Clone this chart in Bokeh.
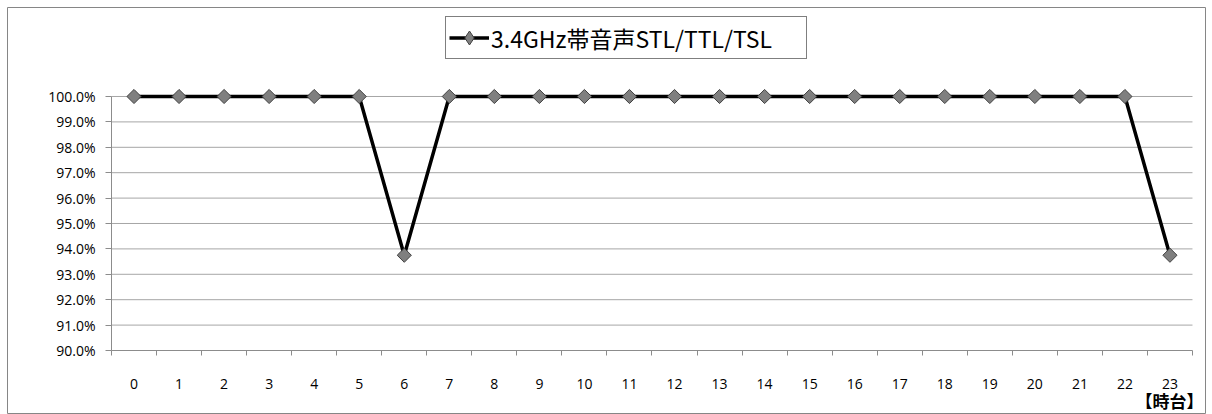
import numpy as np
from bokeh.plotting import figure
from bokeh.models import (FixedTicker, NumeralTickFormatter, Legend, LegendItem,
                          Label, ColumnDataSource, LinearAxis)
from bokeh.embed import file_html
from bokeh.resources import INLINE

hours = list(range(24))
hour_labels = [str(h) for h in hours]
series_name = "3.4GHz帯音声STL/TTL/TSL"
values = [1.0, 1.0, 1.0, 1.0, 1.0, 1.0, 0.9375, 1.0, 1.0, 1.0, 1.0, 1.0,
          1.0, 1.0, 1.0, 1.0, 1.0, 1.0, 1.0, 1.0, 1.0, 1.0, 1.0, 0.9375]
y_ticks = [0.90, 0.91, 0.92, 0.93, 0.94, 0.95, 0.96, 0.97, 0.98, 0.99, 1.00]
x_axis_title = "【時台】"

FONT = "Open Sans"
CJK = "Noto Sans CJK JP"
GRID = "#a6a6a6"
AXIS = "#8c8c8c"
MARK_FILL = "#7f7f7f"
MARK_LINE = "#404040"

x_lo, x_hi = hours[0] - 0.5, hours[-1] + 0.5
y_lo, y_hi = y_ticks[0], y_ticks[-1]

src = ColumnDataSource(dict(x=hours, y=values))

# The frame is the whole chart area (its outline is the chart border);
# the plot area inside it is set by the axes' fixed locations.
p = figure(width=1212, height=414, output_backend="svg", toolbar_location=None,
           x_range=(-2.809, 23.789), y_range=(0.8748, 1.03504),
           x_axis_type=None, y_axis_type=None,
           min_border_left=7, min_border_right=7, min_border_top=7,
           min_border_bottom=0)
p.outline_line_color = "#868686"
p.outline_line_width = 1
p.background_fill_color = "white"
p.border_fill_color = "white"
p.xgrid.visible = False
p.ygrid.visible = False

# horizontal gridlines across the plot area only
grid_y = y_ticks[1:]
p.segment(x0=[x_lo] * len(grid_y), x1=[x_hi] * len(grid_y), y0=grid_y, y1=grid_y,
          line_color=GRID, line_width=1)

# x axis
xaxis = LinearAxis(fixed_location=y_lo, bounds=(x_lo, x_hi))
xaxis.ticker = FixedTicker(ticks=hours, minor_ticks=[h - 0.5 for h in hours] + [x_hi])
xaxis.major_label_overrides = {h: l for h, l in zip(hours, hour_labels)}
xaxis.major_tick_out = 0
xaxis.major_tick_in = 0
xaxis.minor_tick_out = 5
xaxis.minor_tick_in = 0
xaxis.minor_tick_line_color = AXIS
xaxis.axis_line_color = AXIS
xaxis.major_label_standoff = 24
xaxis.major_label_text_font = FONT
xaxis.major_label_text_font_size = "14px"
xaxis.major_label_text_color = "black"
p.add_layout(xaxis, "below")

# y axis
yaxis = LinearAxis(fixed_location=x_lo, bounds=(y_lo, y_hi))
yaxis.ticker = FixedTicker(ticks=y_ticks, minor_ticks=[])
yaxis.formatter = NumeralTickFormatter(format="0.0%")
yaxis.major_tick_out = 6
yaxis.major_tick_in = 0
yaxis.major_tick_line_color = AXIS
yaxis.axis_line_color = AXIS
yaxis.major_label_standoff = 10
yaxis.major_label_text_font = FONT
yaxis.major_label_text_font_size = "14px"
yaxis.major_label_text_color = "black"
p.add_layout(yaxis, "left")

ln = p.line("x", "y", source=src, line_color="black", line_width=3.5)
# diamond used for the legend swatch (legend swatches ignore marker angle);
# it is fully covered in the plot by the rotated-square markers drawn on top
legend_mk = p.scatter("x", "y", source=src, marker="diamond", size=9,
                      fill_color=MARK_FILL, line_color=MARK_LINE, line_width=1)
mk = p.scatter("x", "y", source=src, marker="square", size=10, angle=np.pi / 4,
               fill_color=MARK_FILL, line_color=MARK_LINE, line_width=1)

legend = Legend(items=[LegendItem(label=series_name, renderers=[ln, legend_mk])],
                location=(438, 355), orientation="horizontal",
                label_text_font=CJK, label_text_font_size="23px",
                label_text_color="black", label_width=312,
                border_line_color="black", border_line_width=1,
                glyph_width=40, glyph_height=35, padding=3, margin=0,
                label_standoff=2, background_fill_alpha=1)
p.add_layout(legend)

lab = Label(x=x_hi, y=y_lo, x_offset=11, y_offset=-50, text=x_axis_title,
            text_align="right", text_baseline="middle",
            text_font=CJK, text_font_size="17px",
            text_font_style="bold", text_color="black")
p.add_layout(lab)

open("out.html", "w").write(file_html(p, INLINE))
